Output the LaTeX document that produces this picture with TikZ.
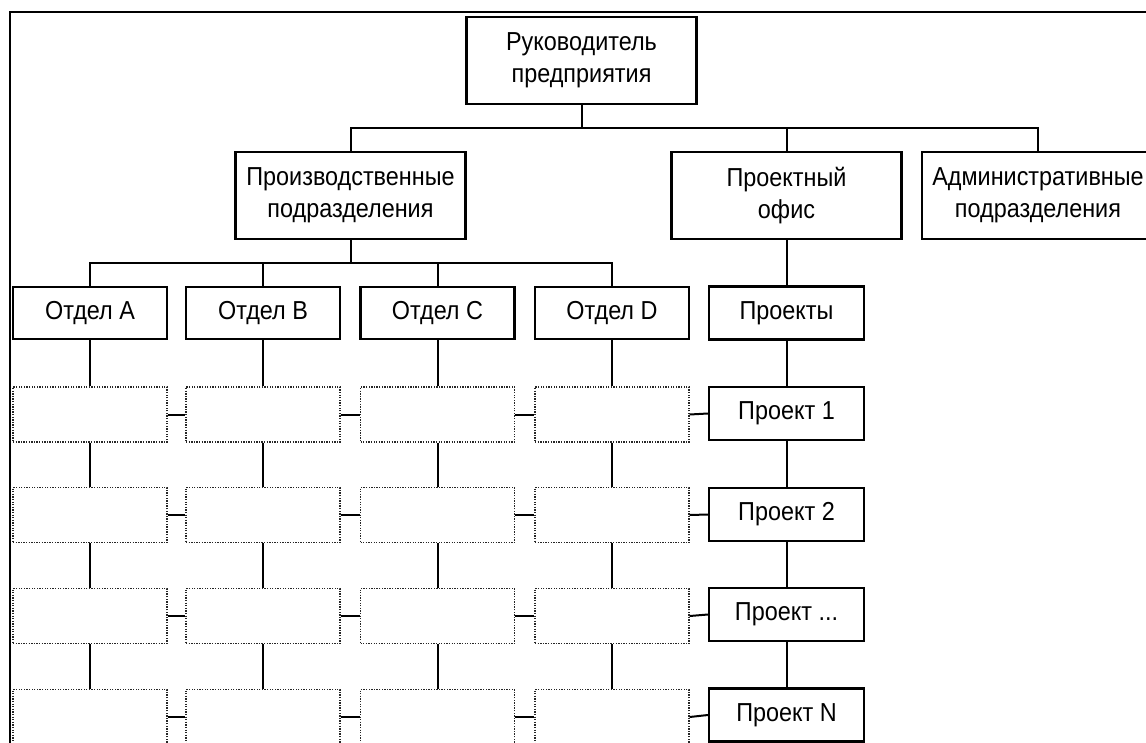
\documentclass[tikz,border=0pt]{standalone}
\usepackage{fontspec}
\setmainfont{Liberation Sans}[FakeStretch=0.9]
\begin{document}
\begin{tikzpicture}[x=1pt,y=-1pt,
  box/.style={draw, line width=2.2pt, rectangle, inner sep=0pt, align=center,
    font=\fontsize{26}{32}\selectfont},
  bigbox/.style={box, minimum width=230pt, minimum height=87pt},
  unit/.style={box, minimum width=154pt, minimum height=52pt},
  proj/.style={box, minimum width=155pt, minimum height=53pt},
  ghost/.style={draw=black!85, line width=1.3pt, dash pattern=on 1.3pt off 1.3pt,
    rectangle, inner sep=0pt, minimum width=154pt, minimum height=55pt},
  link/.style={draw, line width=2pt},
  frame/.style={draw, line width=2.8pt}]

\useasboundingbox (0,0) rectangle (1146,742);
\clip (0,0) rectangle (1146,742);

% outer frame of the sheet
\draw[frame] (10,12) rectangle (1180,780);

% levels of the hierarchy
\node[bigbox] (head) at (581.5,60.5) {Руководитель\\предприятия};
\node[bigbox] (prod) at (350.5,195.5) {Производственные\\подразделения};
\node[bigbox] (office) at (786.5,195.5) {Проектный\\офис};
\node[bigbox, minimum width=232pt] (admin) at (1038,195.5) {Административные\\подразделения};

\node[unit] (da) at (90,313) {Отдел A};
\node[unit] (db) at (263,313) {Отдел B};
\node[unit] (dc) at (437.5,313) {Отдел C};
\node[unit] (dd) at (612,313) {Отдел D};
\node[proj] (projects) at (786.5,313) {Проекты};

\node[proj] (p1) at (786.5,413.5) {Проект 1};
\node[proj] (p2) at (786.5,514.5) {Проект 2};
\node[proj] (p3) at (786.5,614.5) {Проект ...};
\node[proj] (p4) at (786.5,715) {Проект N};

% empty cells of the matrix
\foreach \col/\x in {a/90,b/263,c/437.5,d/612}
  \foreach \r/\y in {1/414.5,2/515,3/616,4/717}
    \node[ghost] (\col\r) at (\x,\y) {};

% bus lines
\coordinate (bus1) at (0,128);
\coordinate (bus2) at (0,263);

\draw[link] (head.south) -- (head.south |- bus1);
\draw[link] (prod.north) -- (prod.north |- bus1) -- (admin.north |- bus1) -- (admin.north);
\draw[link] (office.north) -- (office.north |- bus1);

\draw[link] (prod.south) -- (prod.south |- bus2);
\draw[link] (da.north) -- (da.north |- bus2) -- (dd.north |- bus2) -- (dd.north);
\draw[link] (db.north) -- (db.north |- bus2);
\draw[link] (dc.north) -- (dc.north |- bus2);

% project chain
\draw[link] (office.south) -- (projects.north);
\draw[link] (projects.south) -- (p1.north);
\draw[link] (p1.south) -- (p2.north);
\draw[link] (p2.south) -- (p3.north);
\draw[link] (p3.south) -- (p4.north);

% columns under each department
\foreach \col in {a,b,c,d} {
  \draw[link] (d\col.south) -- (\col1.north);
  \draw[link] (\col1.south) -- (\col2.north);
  \draw[link] (\col2.south) -- (\col3.north);
  \draw[link] (\col3.south) -- (\col4.north);
}

% rows linking cells to their project
\foreach \r in {1,2,3,4} {
  \draw[link] (a\r.east) -- (b\r.west);
  \draw[link] (b\r.east) -- (c\r.west);
  \draw[link] (c\r.east) -- (d\r.west);
  \draw[link] (d\r.east) -- (p\r.west);
}
\end{tikzpicture}
\end{document}
